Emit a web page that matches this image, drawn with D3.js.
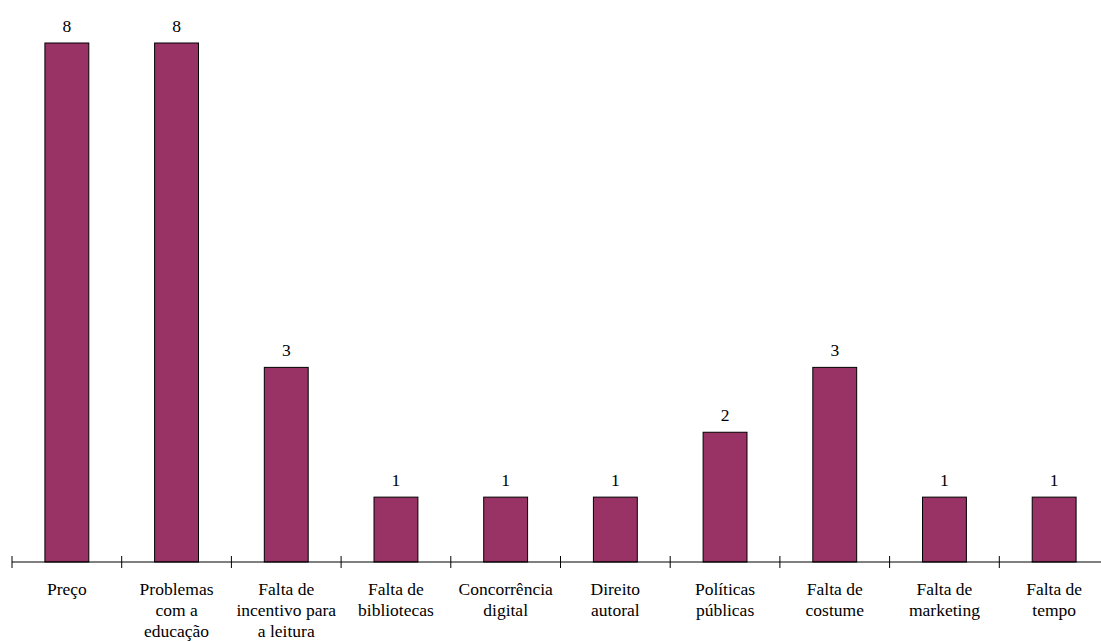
<!DOCTYPE html>
<html><head><meta charset="utf-8">
<script src="https://cdn.jsdelivr.net/npm/d3@7"></script>
<style>body{margin:0;background:#fff}svg{display:block}</style>
</head><body>
<script>
const categories = [
  ["Preço"],
  ["Problemas","com a","educação"],
  ["Falta de","incentivo para","a leitura"],
  ["Falta de","bibliotecas"],
  ["Concorrência","digital"],
  ["Direito","autoral"],
  ["Políticas","públicas"],
  ["Falta de","costume"],
  ["Falta de","marketing"],
  ["Falta de","tempo"]
];
const values = [8, 8, 3, 1, 1, 1, 2, 3, 1, 1];

const W = 1101, H = 641;
const left = 12, step = 109.7, baseY = 562, topY = 43;
const FONT = "font-family:'Liberation Serif';font-size:17.5px;fill:#000";
const svg = d3.select("body").append("svg").attr("width", W).attr("height", H);

const x = d3.scaleBand().domain(d3.range(values.length))
  .range([left, left + step * values.length]).paddingInner(0.6).paddingOuter(0.3);
const y = d3.scaleLinear().domain([0, 8]).range([baseY, topY]);

svg.selectAll("rect.bar").data(values).join("rect")
  .attr("class","bar")
  .attr("x", (d,i) => x(i)).attr("width", x.bandwidth())
  .attr("y", d => y(d)).attr("height", d => baseY - y(d))
  .attr("fill", "#993366").attr("stroke", "#000").attr("stroke-width", 1);

svg.selectAll("text.val").data(values).join("text")
  .attr("class","val")
  .attr("x", (d,i) => x(i) + x.bandwidth()/2)
  .attr("y", d => y(d) - 11)
  .attr("text-anchor","middle")
  .attr("style", FONT)
  .text(d => d);

// axis
svg.append("line").attr("x1", left).attr("x2", W).attr("y1", baseY).attr("y2", baseY)
  .attr("stroke","#000").attr("stroke-width",1);
svg.selectAll("line.tick").data(d3.range(values.length + 1)).join("line")
  .attr("class","tick")
  .attr("x1", i => left + step * i).attr("x2", i => left + step * i)
  .attr("y1", baseY - 6).attr("y2", baseY + 6)
  .attr("stroke","#000").attr("stroke-width",1);

const lab = svg.selectAll("text.cat").data(categories).join("text")
  .attr("class","cat")
  .attr("text-anchor","middle")
  .attr("style", FONT);
lab.each(function(lines, i){
  const t = d3.select(this);
  lines.forEach((l, j) => {
    t.append("tspan").attr("x", x(i) + x.bandwidth()/2).attr("y", 595 + j*21).text(l);
  });
});
</script>
</body></html>
